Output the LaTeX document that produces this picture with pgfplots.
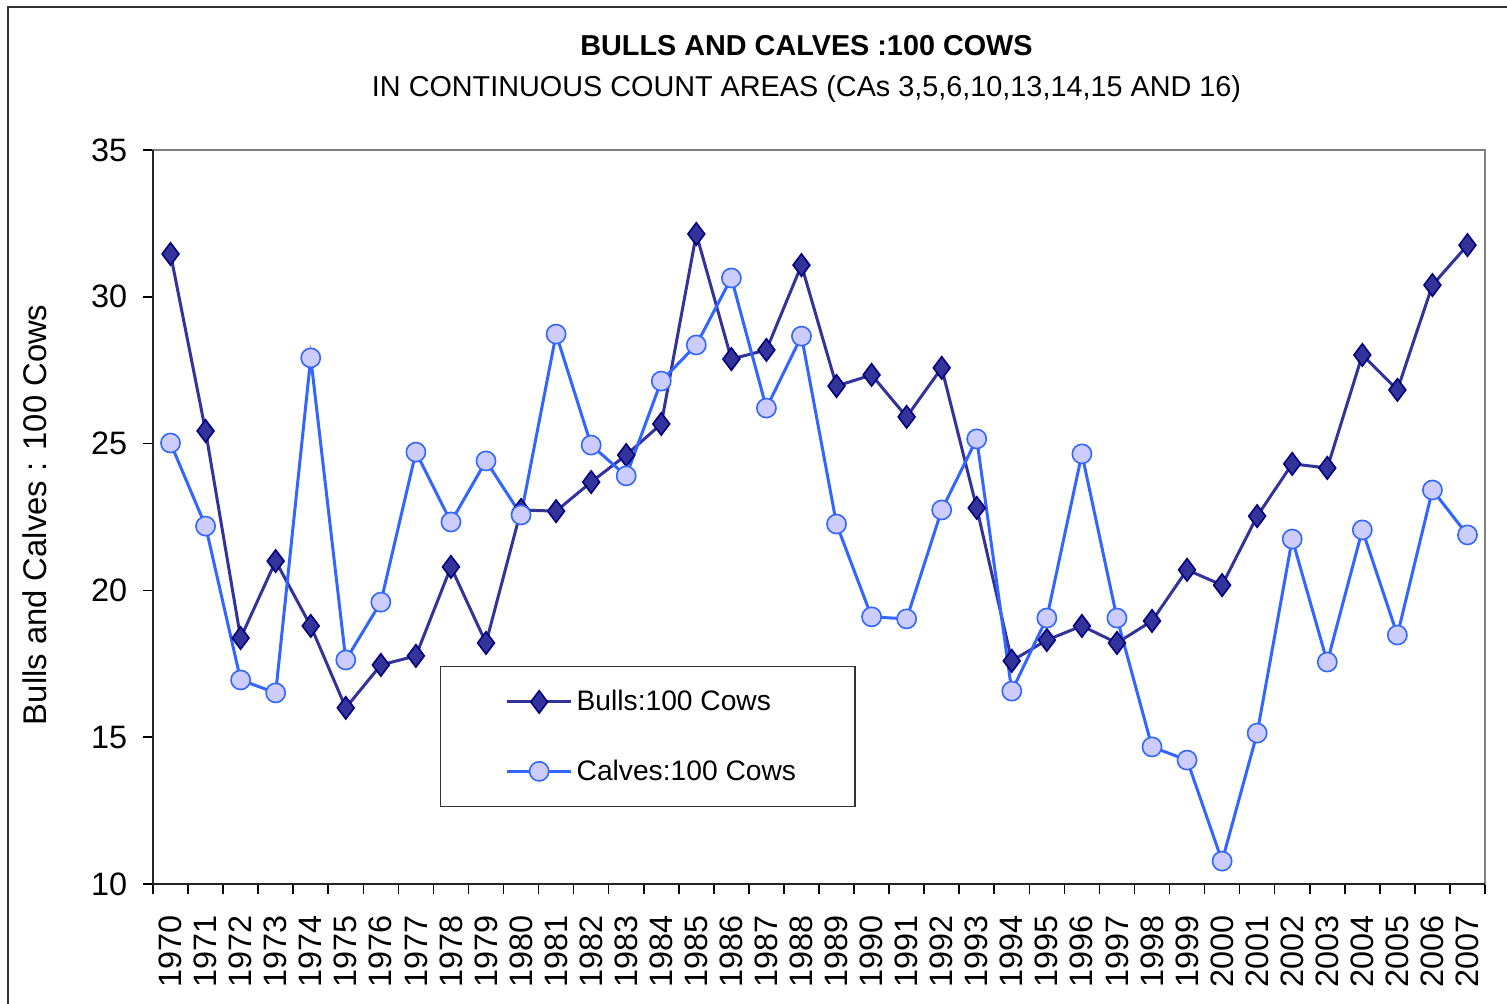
\documentclass[border=0pt]{standalone}
\usepackage{pgfplots}
\pgfplotsset{compat=1.18}
\usepackage{fontspec}
\setmainfont{Liberation Sans}
\definecolor{bullc}{HTML}{333399}
\definecolor{bulle}{HTML}{000080}
\definecolor{calfc}{HTML}{3366FF}
\definecolor{calff}{HTML}{CCCCFF}
\begin{document}
\begin{tikzpicture}[x=1pt,y=1pt]
\begin{axis}[
  scale only axis, width=666pt, height=367pt,
  xmin=1969.5, xmax=2007.5, ymin=10, ymax=35,
  xtick={1970,...,2007},
  minor xtick={1969.5,1970.5,...,2007.5},
  ytick={10,15,...,35},
  xtick pos=bottom, ytick pos=left,
  tick align=outside,
  major tick length=5pt, minor tick length=5pt,
  tick style={black, line width=0.8pt},
  major x tick style={draw=none},
  axis line style={draw=gray, line width=1pt},
  /pgf/number format/assume math mode=true,
  /pgf/number format/1000 sep={},
  tick label style={font=\fontsize{16.2}{16}\selectfont},
  xticklabel style={rotate=90, anchor=east, inner xsep=10.5pt},
  yticklabel style={inner xsep=7.7pt},
  ylabel={Bulls and Calves : 100 Cows},
  ylabel style={font=\fontsize{16.4}{16}\selectfont, at={(axis description cs:-0.0886,0.503)}, anchor=center},
  legend style={at={(0.2155,0.297)}, anchor=north west, draw=black!80, line width=0.6pt,
    font=\fontsize{14.1}{14}\selectfont, inner xsep=32.5pt, inner ysep=9.8pt, row sep=19pt},
  legend cell align=left,
  legend image code/.code={\draw[mark repeat=2,mark phase=2] plot coordinates {(0pt,0pt) (16pt,0pt) (32pt,0pt)};},
  clip=false,
]
\addplot[color=bullc, line width=1.5pt, mark=diamond*, mark size=5.6pt,
  mark options={fill=bullc, draw=bulle, line width=0.8pt, solid}] coordinates {
(1970,31.46) (1971,25.43) (1972,18.38) (1973,21.0) (1974,18.79) (1975,16.0)
(1976,17.46) (1977,17.77) (1978,20.8) (1979,18.21) (1980,22.74) (1981,22.7)
(1982,23.69) (1983,24.61) (1984,25.67) (1985,32.14) (1986,27.88) (1987,28.19)
(1988,31.08) (1989,26.96) (1990,27.34) (1991,25.91) (1992,27.58) (1993,22.81)
(1994,17.6) (1995,18.31) (1996,18.79) (1997,18.21) (1998,18.96) (1999,20.7)
(2000,20.18) (2001,22.53) (2002,24.31) (2003,24.17) (2004,28.02) (2005,26.83)
(2006,30.4) (2007,31.76)};
\addlegendentry{Bulls:100 Cows\hspace*{-5pt}}
\addplot[color=calfc, line width=1.5pt, mark=*, mark size=4.8pt,
  mark options={fill=calff, draw=calfc, line width=0.8pt, solid}] coordinates {
(1970,25.02) (1971,22.19) (1972,16.95) (1973,16.51) (1974,27.92) (1975,17.63)
(1976,19.6) (1977,24.71) (1978,22.33) (1979,24.41) (1980,22.57) (1981,28.73)
(1982,24.95) (1983,23.9) (1984,27.13) (1985,28.36) (1986,30.64) (1987,26.21)
(1988,28.66) (1989,22.26) (1990,19.1) (1991,19.03) (1992,22.74) (1993,25.16)
(1994,16.57) (1995,19.06) (1996,24.65) (1997,19.06) (1998,14.67) (1999,14.22)
(2000,10.78) (2001,15.14) (2002,21.75) (2003,17.56) (2004,22.06) (2005,18.48)
(2006,23.42) (2007,21.89)};
\addlegendentry{Calves:100 Cows\hspace*{-5pt}}
\draw[black!85, line width=1pt] (rel axis cs:0,1) -- (rel axis cs:0,0) -- (rel axis cs:1,0);
\end{axis}
\draw[black!80, line width=1pt] (-72.25,-80) -- (-72.25,438.5) -- (700,438.5);
\node[font=\bfseries\fontsize{14.4}{14}\selectfont, anchor=base] at (326.75,414) {BULLS AND CALVES :100 COWS};
\node[font=\fontsize{14.4}{14}\selectfont, anchor=base] at (326.75,393.5) {IN CONTINUOUS COUNT AREAS (CAs 3,5,6,10,13,14,15 AND 16)};
\pgfresetboundingbox
\useasboundingbox (-76.5,-59.5) rectangle (677,442);
\end{tikzpicture}
\end{document}
